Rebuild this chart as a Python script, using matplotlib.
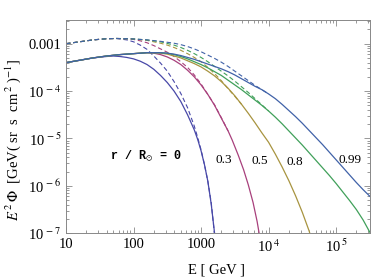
import matplotlib

matplotlib.use("Agg")
import matplotlib.pyplot as plt
import numpy as np
from matplotlib.ticker import FixedLocator, LogLocator, NullFormatter

plt.rcParams["mathtext.fontset"] = "stix"
plt.rcParams["font.family"] = ["Liberation Serif", "DejaVu Serif"]

# radial positions r / R_sun
radii = ["0", "0.3", "0.5", "0.8", "0.99"]
colors = ["#4848a8", "#a8407c", "#a89440", "#40a05a", "#4062a8"]

# solid curves: log10 E [GeV] and log10 E^2 Phi
solid_logE = [
    [1.0, 1.2, 1.4, 1.6, 1.7, 1.8, 1.9, 2.0, 2.1, 2.2, 2.3, 2.4, 2.5, 2.6, 2.7, 2.8, 2.9, 2.95, 3.0,
     3.05, 3.1, 3.15, 3.2, 3.22],
    [1.0, 1.2, 1.4, 1.6, 1.8, 2.0, 2.2, 2.3, 2.4, 2.5, 2.6, 2.7, 2.8, 2.9, 3.0, 3.1, 3.2, 3.3, 3.4,
     3.46, 3.55, 3.63, 3.7, 3.77, 3.83, 3.86, 3.88],
    [1.0, 1.2, 1.4, 1.6, 1.8, 2.0, 2.2, 2.3, 2.4, 2.5, 2.6, 2.7, 2.8, 2.9, 3.0, 3.1, 3.2, 3.3, 3.4,
     3.5, 3.6, 3.7, 3.8, 3.9, 4.0, 4.1, 4.2, 4.3, 4.4, 4.5, 4.6, 4.63],
    [1.0, 1.2, 1.4, 1.6, 1.8, 2.0, 2.2, 2.4, 2.5, 2.6, 2.7, 2.8, 2.9, 3.0, 3.1, 3.2, 3.3, 3.4, 3.5,
     3.6, 3.7, 3.8, 3.9, 4.0, 4.1, 4.2, 4.3, 4.4, 4.5, 4.6, 4.7, 4.8, 4.9, 5.0, 5.1, 5.2, 5.3, 5.4, 5.5],
    [1.0, 1.2, 1.4, 1.6, 1.8, 2.0, 2.2, 2.4, 2.5, 2.6, 2.7, 2.8, 2.9, 3.0, 3.1, 3.2, 3.3, 3.4, 3.5,
     3.6, 3.7, 3.8, 3.9, 4.0, 4.1, 4.2, 4.3, 4.4, 4.5, 4.6, 4.7, 4.8, 4.9, 5.0, 5.1, 5.2, 5.3, 5.4, 5.5],
]
solid_logF = [
    [-3.40, -3.35, -3.30, -3.27, -3.26, -3.27, -3.29, -3.32, -3.37, -3.44, -3.54, -3.67, -3.82, -4.00,
     -4.22, -4.50, -4.82, -5.02, -5.26, -5.55, -5.90, -6.38, -7.0, -7.2],
    [-3.40, -3.35, -3.30, -3.26, -3.23, -3.21, -3.19, -3.20, -3.23, -3.28, -3.35, -3.44, -3.56, -3.70,
     -3.87, -4.07, -4.30, -4.57, -4.84, -5.03, -5.35, -5.66, -5.98, -6.35, -6.75, -7.0, -7.2],
    [-3.40, -3.35, -3.30, -3.26, -3.23, -3.21, -3.19, -3.19, -3.20, -3.22, -3.26, -3.30, -3.36, -3.42,
     -3.49, -3.58, -3.68, -3.80, -3.94, -4.10, -4.28, -4.47, -4.67, -4.88, -5.08, -5.33, -5.60, -5.89,
     -6.21, -6.56, -6.95, -7.1],
    [-3.40, -3.35, -3.30, -3.26, -3.23, -3.21, -3.19, -3.19, -3.20, -3.23, -3.27, -3.32, -3.38, -3.44,
     -3.51, -3.59, -3.67, -3.77, -3.87, -3.97, -4.08, -4.19, -4.30, -4.42, -4.55, -4.69, -4.84, -4.99,
     -5.14, -5.30, -5.46, -5.62, -5.78, -5.95, -6.13, -6.31, -6.50, -6.72, -6.98],
    [-3.40, -3.35, -3.30, -3.26, -3.23, -3.21, -3.19, -3.19, -3.20, -3.22, -3.25, -3.29, -3.33, -3.38,
     -3.43, -3.48, -3.53, -3.59, -3.66, -3.74, -3.82, -3.90, -3.97, -4.06, -4.16, -4.28, -4.41, -4.54,
     -4.68, -4.83, -4.98, -5.13, -5.29, -5.45, -5.61, -5.77, -5.93, -6.08, -6.22],
]

# dashed curves
dashed_logE = [
    [1.0, 1.2, 1.4, 1.6, 1.75, 1.9, 2.0, 2.1, 2.2, 2.3, 2.4, 2.5, 2.6, 2.7, 2.8, 2.9, 2.95, 3.0, 3.05,
     3.1, 3.15, 3.19, 3.21],
    [1.0, 1.2, 1.4, 1.6, 1.75, 1.9, 2.0, 2.1, 2.2, 2.3, 2.4, 2.5, 2.6, 2.7, 2.8, 2.9, 3.0, 3.1, 3.2,
     3.3, 3.4],
    [1.0, 1.2, 1.4, 1.6, 1.75, 1.9, 2.0, 2.2, 2.4, 2.5, 2.6, 2.7, 2.8, 2.9, 3.0, 3.1, 3.2, 3.3, 3.4,
     3.5, 3.6],
    [1.0, 1.2, 1.4, 1.6, 1.75, 1.9, 2.0, 2.2, 2.4, 2.6, 2.7, 2.8, 2.9, 3.0, 3.1, 3.2, 3.3, 3.4, 3.5,
     3.6, 3.7, 3.8, 3.9, 4.0],
    [1.0, 1.2, 1.4, 1.6, 1.75, 1.9, 2.0, 2.2, 2.4, 2.6, 2.7, 2.8, 2.9, 3.0, 3.1, 3.2, 3.3, 3.4, 3.5,
     3.6, 3.7, 3.8, 3.9, 4.0],
]
dashed_logF = [
    [-3.00, -2.96, -2.92, -2.895, -2.89, -2.92, -2.96, -3.03, -3.12, -3.26, -3.41, -3.58, -3.80, -4.05,
     -4.35, -4.74, -4.98, -5.24, -5.55, -5.90, -6.35, -6.9, -7.2],
    [-3.00, -2.96, -2.92, -2.895, -2.89, -2.895, -2.91, -2.94, -2.98, -3.04, -3.11, -3.18, -3.27, -3.38,
     -3.50, -3.66, -3.85, -4.07, -4.29, -4.56, -4.84],
    [-3.00, -2.96, -2.92, -2.895, -2.89, -2.895, -2.90, -2.93, -2.99, -3.03, -3.08, -3.14, -3.21, -3.29,
     -3.38, -3.50, -3.63, -3.78, -3.95, -4.11, -4.28],
    [-3.00, -2.96, -2.92, -2.895, -2.89, -2.895, -2.90, -2.92, -2.96, -3.03, -3.08, -3.14, -3.21, -3.29,
     -3.38, -3.48, -3.58, -3.68, -3.79, -3.91, -4.03, -4.16, -4.29, -4.42],
    [-3.00, -2.96, -2.92, -2.895, -2.89, -2.895, -2.90, -2.92, -2.95, -2.99, -3.02, -3.06, -3.11, -3.17,
     -3.24, -3.31, -3.39, -3.48, -3.58, -3.68, -3.78, -3.88, -3.97, -4.06],
]

# curve labels (E, E^2 Phi)
label_E = [150, 2150, 7400, 2.45e4, 1.6e5]
label_F = [4.1e-6, 3.5e-6, 3.4e-6, 3.2e-6, 3.5e-6]

fig = plt.figure(figsize=(3.74, 2.80), dpi=100)
ax = fig.add_axes([0.1765, 0.1668, 0.8125, 0.7618])

for i in range(len(radii)):
    ax.plot(10 ** np.array(dashed_logE[i]), 10 ** np.array(dashed_logF[i]),
            color=colors[i], lw=0.8, ls=(0, (4, 2.5)))
for i in range(len(radii)):
    ax.plot(10 ** np.array(solid_logE[i]), 10 ** np.array(solid_logF[i]),
            color=colors[i], lw=0.9)

ax.set_xscale("log")
ax.set_yscale("log")
ax.set_xlim(10, 10 ** 5.5)
ax.set_ylim(1e-7, 10 ** -2.5)

ax.xaxis.set_major_locator(FixedLocator([10, 100, 1000, 1e4, 1e5]))
ax.set_xticklabels(["10", "100", "1000", r"10$^{\,4}$", r"10$^{\,5}$"])
ax.yaxis.set_major_locator(FixedLocator([1e-7, 1e-6, 1e-5, 1e-4, 1e-3]))
ax.set_yticklabels([r"10$^{\,-7}$", r"10$^{\,-6}$", r"10$^{\,-5}$", r"10$^{\,-4}$", "0.001"])
ax.xaxis.set_minor_locator(LogLocator(base=10, subs=np.arange(2, 10), numticks=20))
ax.yaxis.set_minor_locator(LogLocator(base=10, subs=np.arange(2, 10), numticks=20))
ax.xaxis.set_minor_formatter(NullFormatter())
ax.yaxis.set_minor_formatter(NullFormatter())

ax.tick_params(which="both", direction="in", top=True, right=True,
               color="#888888", width=0.6, labelsize=10.5)
ax.tick_params(which="major", length=4.5)
ax.tick_params(which="minor", length=2.2)
for sp in ax.spines.values():
    sp.set_color("#888888")
    sp.set_linewidth(0.7)

fig.text(217 / 374, 1 - 270 / 280, "E [ GeV ]", fontsize=10.5, ha="center", va="center")
fig.text(0.035, 0.5, r"$E^{\,2}\,\Phi$  [GeV( sr  s  cm$^{\,2}$ )$^{-1}$]", fontsize=10.5,
         rotation=90, ha="center", va="center")

ax.text(label_E[0], label_F[0], r"r / R$_{\odot}$ = 0", family="Liberation Mono",
        fontweight="bold", fontsize=8.5, ha="center", va="center")
for i in range(1, len(radii)):
    ax.text(label_E[i], label_F[i], radii[i], fontsize=9.5, ha="center", va="center")

fig.savefig("out.png", dpi=100)
